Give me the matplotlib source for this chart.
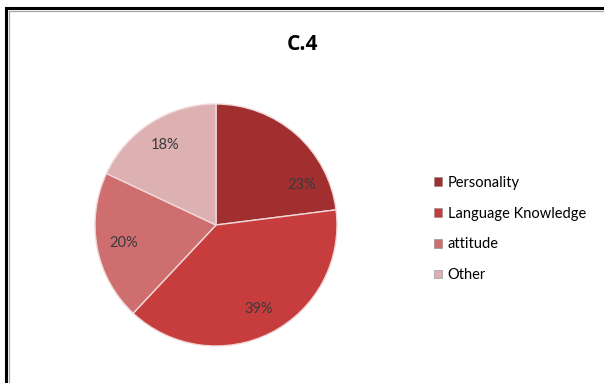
import matplotlib.pyplot as plt
import numpy as np
from matplotlib.lines import Line2D
from matplotlib.patches import Patch

# data
labels = ["Personality", "Language Knowledge", "attitude", "Other"]
values = [23, 39, 20, 18]
colors = ["#a22f2f", "#c73d3d", "#cf6e6e", "#ddb1b1"]

plt.rcParams['font.family'] = ['Lato', 'DejaVu Sans']

fig = plt.figure(figsize=(6.04, 3.83), dpi=100)
fig.patch.set_facecolor("white")

# outer frame (only left and top visible in the reference)
W, H = 604, 383
fig.add_artist(Line2D([6 / W, 6 / W], [0, 1 - 8 / H], color="black", lw=2.2))
fig.add_artist(Line2D([6 / W, 1], [1 - 8 / H, 1 - 8 / H], color="black", lw=2.2))
fig.add_artist(Line2D([8.5 / W, 8.5 / W], [0, 1 - 10.5 / H], color="#a8a8a8", lw=0.9))
fig.add_artist(Line2D([8.5 / W, 1], [1 - 10.5 / H, 1 - 10.5 / H], color="#a8a8a8", lw=0.9))

fig.text(302 / W, 1 - 45 / H, "C.4", ha="center", va="center",
         fontsize=15, fontweight="bold", color="black",
         family=["Open Sans", "DejaVu Sans"])

# pie axes
cx, cy, r = 216, 225, 121
ax = fig.add_axes([(cx - r) / W, (H - cy - r) / H, 2 * r / W, 2 * r / H])
wedges, texts, autotexts = ax.pie(
    values, colors=colors, startangle=90, counterclock=False,
    autopct="%d%%", pctdistance=0.78,
    wedgeprops=dict(edgecolor="#f0d8d8", linewidth=1.0),
    textprops=dict(fontsize=10.5, color="#3a3a3a"))
# Excel nudged the first label toward the right
ang = np.deg2rad(25)
autotexts[0].set_position((0.78 * np.cos(ang), 0.78 * np.sin(ang)))
ax.set_xlim(-1, 1)
ax.set_ylim(-1, 1)
ax.set_aspect("auto")

handles = [Patch(facecolor=c, edgecolor="#888888", linewidth=0.4) for c in colors]
fig.legend(handles, labels, loc="upper left",
           bbox_to_anchor=(428 / W, 1 - 170 / H), frameon=False,
           fontsize=10.5, handlelength=0.55, handleheight=0.55,
           handletextpad=0.4, labelspacing=1.15, borderaxespad=0)

fig.savefig("out.png", dpi=100, facecolor="white")
